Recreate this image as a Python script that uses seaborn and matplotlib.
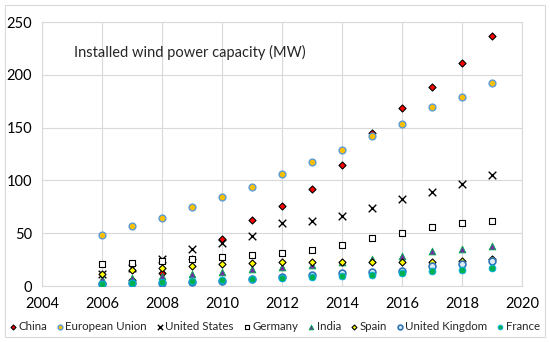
import matplotlib
matplotlib.use("Agg")
import matplotlib.pyplot as plt
import seaborn as sns
import pandas as pd
from matplotlib.patches import Rectangle

years = list(range(2006, 2020))
china = [2.6, 5.9, 12.0, 25.8, 44.7, 62.4, 75.3, 91.4, 114.6, 145.1, 168.7, 188.2, 211.4, 236.3]
eu = [48.0, 56.5, 64.7, 75.1, 84.3, 94.0, 106.5, 117.3, 128.8, 141.6, 153.7, 169.3, 178.8, 192.0]
us = [11.6, 16.8, 25.2, 35.1, 40.3, 46.9, 60.0, 61.1, 65.9, 73.9, 82.1, 89.1, 96.5, 105.4]
germany = [20.6, 22.2, 23.9, 25.8, 27.2, 29.1, 31.3, 34.3, 39.2, 45.0, 50.0, 56.1, 59.3, 61.4]
india = [6.3, 7.9, 9.6, 10.9, 13.1, 16.1, 18.4, 20.2, 22.5, 25.1, 28.7, 32.8, 35.1, 37.5]
spain = [11.6, 15.1, 16.7, 19.1, 20.7, 21.5, 22.8, 22.9, 23.0, 23.0, 23.1, 23.2, 23.5, 25.8]
uk = [2.0, 2.4, 3.2, 4.1, 5.2, 6.5, 8.4, 10.5, 12.4, 13.6, 14.5, 18.9, 21.0, 23.5]
france = [1.6, 2.5, 3.4, 4.6, 5.9, 6.8, 7.6, 8.2, 9.3, 10.3, 12.1, 13.8, 15.3, 16.6]

series = [
    ("China", china, dict(marker="D", color="#FF0000", edgecolor="black", s=13, linewidth=0.8)),
    ("European Union", eu, dict(marker="o", color="#FFC000", edgecolor="#5B9BD5", s=24, linewidth=1.0)),
    ("United States", us, dict(marker="x", color="black", s=30, linewidth=1.0)),
    ("Germany", germany, dict(marker="s", color="white", edgecolor="black", s=24, linewidth=0.8)),
    ("India", india, dict(marker="^", color="#7030A0", edgecolor="#00B050", s=24, linewidth=0.6)),
    ("Spain", spain, dict(marker="D", color="#FFFF00", edgecolor="black", s=13, linewidth=0.8)),
    ("United Kingdom", uk, dict(marker="o", color="#DDEBF7", edgecolor="#2E75B6", s=24, linewidth=1.2)),
    ("France", france, dict(marker="o", color="#00B050", edgecolor="#00B0F0", s=24, linewidth=0.6)),
]

sns.set_style("white")
plt.rcParams["font.family"] = ["Lato", "DejaVu Sans"]

fig = plt.figure(figsize=(5.5, 3.42), dpi=100)
ax = fig.add_axes([42/550, 1-286/342, (522-42)/550, (286-22)/342])

for name, vals, kw in series:
    df = pd.DataFrame({"Year": years, "Value": vals})
    sns.scatterplot(data=df, x="Year", y="Value", ax=ax, label=name, zorder=3, **kw)

ax.set_xlim(2004, 2020)
ax.set_ylim(0, 250)
ax.set_xticks(range(2004, 2021, 2))
ax.set_yticks(range(0, 251, 50))
ax.set_xlabel("")
ax.set_ylabel("")
ax.grid(True, color="#D9D9D9", linewidth=0.8, zorder=0)
ax.set_axisbelow(True)
for sp in ax.spines.values():
    sp.set_color("#D9D9D9")
    sp.set_linewidth(0.8)
ax.tick_params(axis="both", length=0, labelsize=10.5, colors="black")
ax.tick_params(axis="x", pad=8)
ax.tick_params(axis="y", pad=7)

ax.text(2005.05, 221, "Installed wind power capacity (MW)", fontsize=10.5, va="center", ha="left")

leg = ax.legend(loc="upper center", bbox_to_anchor=(0.5 - 8/480, -0.115), ncol=8, frameon=False,
                fontsize=8.3, handletextpad=0.05, columnspacing=0.75, borderaxespad=0,
                markerscale=0.7, handlelength=0.8)

fig.patches.append(Rectangle((5/550, 5/342), 540/550, 332/342, transform=fig.transFigure,
                             fill=False, edgecolor="#D9D9D9", linewidth=0.8))

fig.savefig("out.png", dpi=100)
